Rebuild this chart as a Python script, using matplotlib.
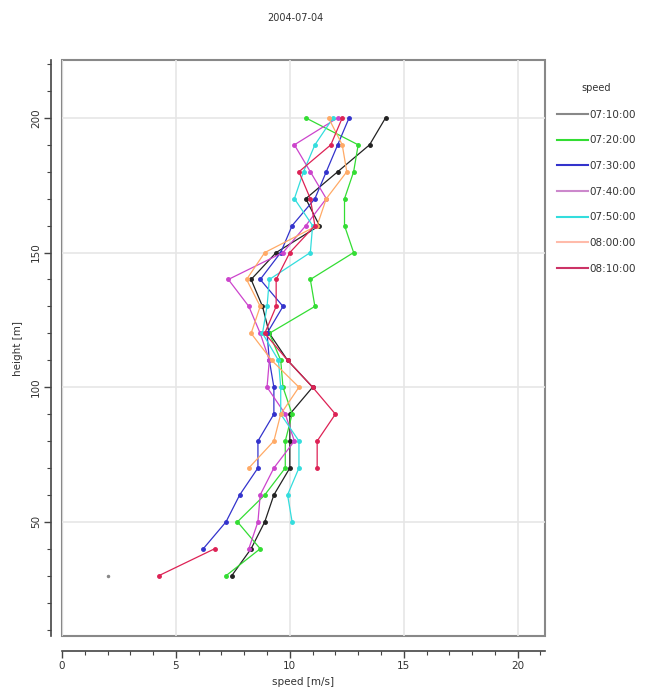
import numpy as np
import matplotlib
matplotlib.use("Agg")
import matplotlib.pyplot as plt
from matplotlib.patches import Rectangle
from matplotlib.ticker import MultipleLocator

nan = np.nan
heights = [200, 190, 180, 170, 160, 150, 140, 130, 120, 110, 100, 90, 80, 70, 60, 50, 40, 30]

times = ["07:10:00", "07:20:00", "07:30:00", "07:40:00", "07:50:00", "08:00:00", "08:10:00"]
colors = ["#222222", "#33dd33", "#3333cc", "#cc44cc", "#33dddd", "#ffaa66", "#dd2255"]
legend_colors = ["#888888", "#33dd33", "#3333cc", "#cc88cc", "#33dddd", "#ffbbaa", "#cc3366"]

speed_0710 = [14.2, 13.5, 12.1, 10.7, 11.3, 9.4, 8.3, 8.8, 9.1, 9.9, 11.0, 10.0, 10.0, 10.0, 9.3, 8.9, 8.3, 7.45]
speed_0720 = [10.7, 13.0, 12.8, 12.4, 12.4, 12.8, 10.9, 11.1, 9.1, 9.6, 9.7, 10.1, 9.8, 9.8, 8.9, 7.7, 8.7, 7.2]
speed_0730 = [12.6, 12.1, 11.6, 11.1, 10.1, 9.6, 8.7, 9.7, 9.0, 9.1, 9.3, 9.3, 8.6, 8.6, 7.8, 7.2, 6.2, nan]
speed_0740 = [12.1, 10.2, 10.9, 11.6, 10.7, 9.7, 7.3, 8.2, 8.7, 9.1, 9.0, 9.8, 10.2, 9.3, 8.7, 8.6, 8.2, nan]
speed_0750 = [11.9, 11.1, 10.6, 10.2, 11.0, 10.9, 9.1, 9.0, 8.8, 9.5, 9.6, 9.6, 10.4, 10.4, 9.9, 10.1, nan, nan]
speed_0800 = [11.7, 12.3, 12.5, 11.6, 11.2, 8.9, 8.1, 8.7, 8.3, 9.2, 10.4, 9.6, 9.3, 8.2, nan, nan, nan, nan]
speed_0810 = [12.3, 11.8, 10.4, 10.9, 11.1, 10.0, 9.4, 9.4, 8.9, 9.9, 11.0, 12.0, 11.2, 11.2, nan, nan, 6.7, 4.25]
series = [speed_0710, speed_0720, speed_0730, speed_0740, speed_0750, speed_0800, speed_0810]

stray_speed = [2.0]
stray_height = [30]

W, H = 651, 698
fig = plt.figure(figsize=(W / 100, H / 100), dpi=100)
ax = fig.add_axes([62 / W, 1 - 636 / H, (545 - 62) / W, (636 - 60) / H])

for s, c, t in zip(series, colors, times):
    ax.plot(s, heights, color=c, lw=0.9, marker="o", ms=2.5, label=t)
ax.plot(stray_speed, stray_height, ls="none", marker="o", ms=1.5, color="#888888")

ax.set_xlim(0, 21.2)
ax.set_ylim(7.6, 221.5)
ax.xaxis.set_major_locator(MultipleLocator(5))
ax.xaxis.set_minor_locator(MultipleLocator(1))
ax.yaxis.set_major_locator(MultipleLocator(50))
ax.yaxis.set_minor_locator(MultipleLocator(10))
ax.grid(True, which="major", color="#e6e6e6", lw=1.2)

# inner frame box
for side in ["top", "right"]:
    ax.spines[side].set_visible(False)
ax.spines["left"].set_position(("outward", 8))
ax.spines["bottom"].set_position(("outward", 11))
for side in ["left", "bottom"]:
    ax.spines[side].set_color("#444444")
    ax.spines[side].set_linewidth(1.2)
ax.add_patch(Rectangle((0, 0), 1, 1, transform=ax.transAxes, fill=False,
                       ec="#888888", lw=1.5, clip_on=False, zorder=0))

ax.tick_params(which="major", length=5, width=1, color="#444444", labelsize=7.5,
               labelcolor="#333333", pad=2)
ax.tick_params(which="minor", length=3, width=0.8, color="#444444")
ax.tick_params(axis="y", labelrotation=90)
for lab in ax.get_yticklabels():
    lab.set_va("center")

ax.set_xlabel("speed [m/s]", fontsize=7.5, color="#333333", labelpad=4)
ax.set_ylabel("height [m]", fontsize=7.5, color="#333333", labelpad=6)
fig.text(295 / W, 1 - 18 / H, "2004-07-04", ha="center", va="center", fontsize=7, color="#333333")

handles = [plt.Line2D([], [], color=c, lw=1.5) for c in legend_colors]
leg = fig.legend(handles, times, title="speed", loc="upper left",
                 bbox_to_anchor=(553 / W, 1 - 79 / H), frameon=False,
                 fontsize=7.5, title_fontsize=7, handlelength=3.0,
                 handletextpad=0.1, labelspacing=1.5, borderaxespad=0)
leg._legend_box.sep = 12
for t in leg.get_texts():
    t.set_color("#333333")
leg.get_title().set_color("#333333")

fig.savefig("out.png", dpi=100)
